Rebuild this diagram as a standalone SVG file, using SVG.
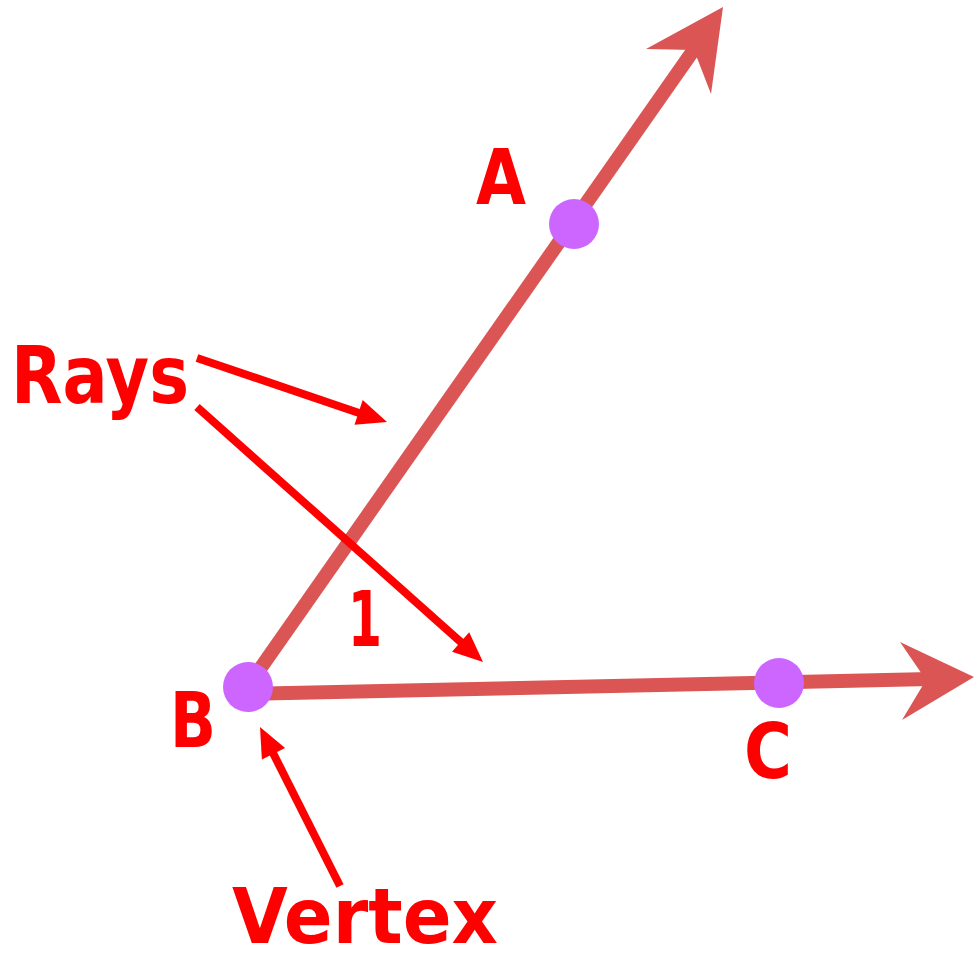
<svg xmlns="http://www.w3.org/2000/svg" width="974" height="961" viewBox="0 0 974 961">
<style>
.ray{stroke:#DB5555;stroke-width:14;fill:none}
.head{fill:#DB5555}
.pt{fill:#CC66FF}
.lbl{fill:#FF0000;font-family:"DejaVu Sans","Liberation Sans",sans-serif;font-weight:bold}
.ann{stroke:#FF0000;stroke-width:8;fill:none}
.ahd{fill:#FF0000}
</style>
<rect width="974" height="961" fill="#fff"/>
<g id="rays">
<g id="rayBA">
<line class="ray" x1="248" y1="686" x2="695" y2="48"/>
<polygon class="head" points="723,7 646,49 694,50 711,94"/>
</g>
<g id="rayBC">
<line class="ray" x1="248" y1="694" x2="930" y2="679"/>
<polygon class="head" points="974,677 900,642 926,680 902,720"/>
</g>
</g>
<g id="connectors">
<line class="ann" x1="197" y1="358" x2="362" y2="414"/>
<polygon class="ahd" points="387,422 354.5,424.7 362.7,400.1"/>
<line class="ann" x1="197" y1="407" x2="463" y2="644"/>
<polygon class="ahd" points="483,662 452,651.7 469.2,632.3"/>
<line class="ann" x1="340" y1="886" x2="271" y2="749"/>
<polygon class="ahd" points="260,727 285.1,748 261.9,759.6"/>
</g>
<g id="pointA"><circle class="pt" cx="574" cy="224" r="25"/><text class="lbl" x="476" y="204" font-size="76" textLength="50" lengthAdjust="spacingAndGlyphs">A</text></g>
<g id="pointB"><circle class="pt" cx="248" cy="687" r="25"/><text class="lbl" x="170" y="747" font-size="76" textLength="46" lengthAdjust="spacingAndGlyphs">B</text></g>
<g id="pointC"><circle class="pt" cx="779" cy="683" r="25"/><text class="lbl" x="744" y="778" font-size="76" textLength="48" lengthAdjust="spacingAndGlyphs">C</text></g>
<g id="angle1"><text class="lbl" x="348" y="646" font-size="76" textLength="34" lengthAdjust="spacingAndGlyphs">1</text></g>
<g id="labelRays"><text class="lbl" x="11" y="403" font-size="80" textLength="178" lengthAdjust="spacingAndGlyphs">Rays</text></g>
<g id="labelVertex"><text class="lbl" x="232" y="943" font-size="76" textLength="266" lengthAdjust="spacingAndGlyphs">Vertex</text></g>
</svg>
